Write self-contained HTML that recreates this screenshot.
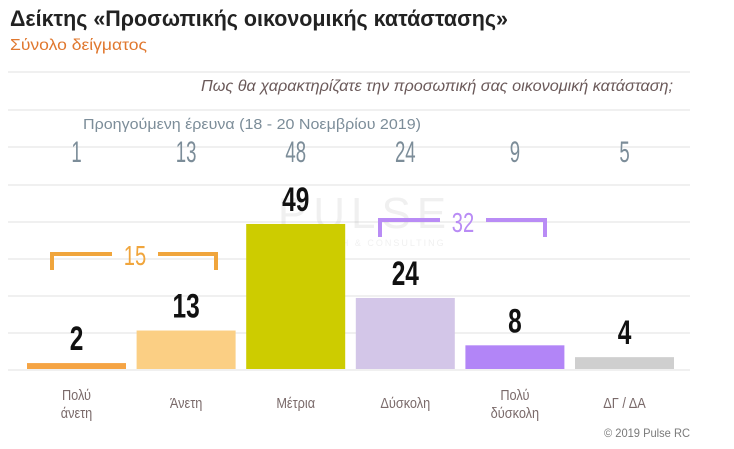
<!DOCTYPE html>
<html><head><meta charset="utf-8">
<style>
html,body{margin:0;padding:0;background:#fff;}
svg{display:block;font-family:"Liberation Sans Narrow","Liberation Sans","DejaVu Sans",sans-serif;}
</style></head>
<body>
<svg id="chart" width="734" height="449" viewBox="0 0 734 449" xmlns="http://www.w3.org/2000/svg">
<text x="10" y="26" font-size="22" font-weight="bold" fill="#222" textLength="498" lengthAdjust="spacingAndGlyphs">Δείκτης «Προσωπικής οικονομικής κατάστασης»</text>
<text x="10" y="50" font-size="16" fill="#e0782f" textLength="137" lengthAdjust="spacingAndGlyphs">Σύνολο δείγματος</text>
<g id="grid"></g>
<text x="673" y="91" font-size="16" font-style="italic" fill="#6b5a5a" text-anchor="end" textLength="472" lengthAdjust="spacingAndGlyphs">Πως θα χαρακτηρίζατε την προσωπική σας οικονομική κατάσταση;</text>
<text x="83" y="129" font-size="15" fill="#7c8d99" textLength="338" lengthAdjust="spacingAndGlyphs">Προηγούμενη έρευνα  (18 - 20 Νοεμβρίου  2019)</text>
<g opacity="0.12">
<text x="365" y="228" font-size="44" fill="#888" text-anchor="middle" letter-spacing="6">PULSE</text>
<text x="365" y="246" font-size="9" fill="#888" text-anchor="middle" letter-spacing="2">RESEARCH &amp; CONSULTING</text>
</g>
<g id="prev"></g>
<g id="bars"></g>
<g stroke="#f0a53c" stroke-width="4" fill="none">
<path d="M52 270 V254 H112 M158 254 H216 V270"/>
</g>
<text transform="translate(135,265) scale(0.72,1)" font-size="28" fill="#f0a53c" text-anchor="middle">15</text>
<g stroke="#b98cf5" stroke-width="4" fill="none">
<path d="M380 237 V220 H440 M486 220 H545 V237"/>
</g>
<text transform="translate(463,232) scale(0.72,1)" font-size="28" fill="#b98cf5" text-anchor="middle">32</text>
<g id="cats"></g>
<text x="690" y="437" font-size="12" fill="#7a7a7a" text-anchor="end" textLength="86" lengthAdjust="spacingAndGlyphs">© 2019 Pulse RC</text>
</svg>
<script>
const categories = [["Πολύ","άνετη"],["Άνετη"],["Μέτρια"],["Δύσκολη"],["Πολύ","δύσκολη"],["ΔΓ / ΔΑ"]];
const values = [2, 13, 49, 24, 8, 4];
const previous = [1, 13, 48, 24, 9, 5];
const colors = ["#f5a444","#fbcf84","#cdcc00","#d3c6e8","#b285f7","#cfcfcf"];
const NS = "http://www.w3.org/2000/svg";
const baseY = 369, scale = 2.96, x0 = 27, step = 109.6, bw = 99;
function xC(i){ return x0 + i*step + bw/2; }
function yV(v){ return baseY - v*scale; }
function mk(tag, attrs, parent){ const e=document.createElementNS(NS,tag); for(const k in attrs) e.setAttribute(k,attrs[k]); parent.appendChild(e); return e; }
const grid=document.getElementById('grid');
[72,110,147,185,222,259,296,333,370].forEach(y=>{
  const l=mk('line',{x1:8,x2:690,y1:y,y2:y,stroke:'#ececec','stroke-width':1.5},grid);
  
  
});
const prev=document.getElementById('prev');
previous.forEach((v,i)=>{
  const t=mk('text',{transform:'translate('+xC(i)+',162) scale(0.62,1)','font-size':30,fill:'#7c8d99','text-anchor':'middle'},prev);
  t.textContent=v;
  
  
});
const bars=document.getElementById('bars');
values.forEach((v,i)=>{
  const r=mk('rect',{x:x0+i*step,y:yV(v),width:bw,height:v*scale,fill:colors[i]},bars);
  
  
  const t=mk('text',{transform:'translate('+xC(i)+','+(yV(v)-13)+') scale(0.72,1)','font-size':34,'font-weight':'bold',fill:'#111','text-anchor':'middle'},bars);
  t.textContent=v;
  
  
});
const cats=document.getElementById('cats');
categories.forEach((c,i)=>{
  const y0 = c.length===2 ? 400 : 408;
  c.forEach((line,j)=>{
    const t=mk('text',{transform:'translate('+xC(i)+','+(y0+j*18)+') scale(0.85,1)','font-size':15,fill:'#7a6a6a','text-anchor':'middle'},cats);
    t.textContent=line;
    
    
  });
});
</script>
</body></html>
